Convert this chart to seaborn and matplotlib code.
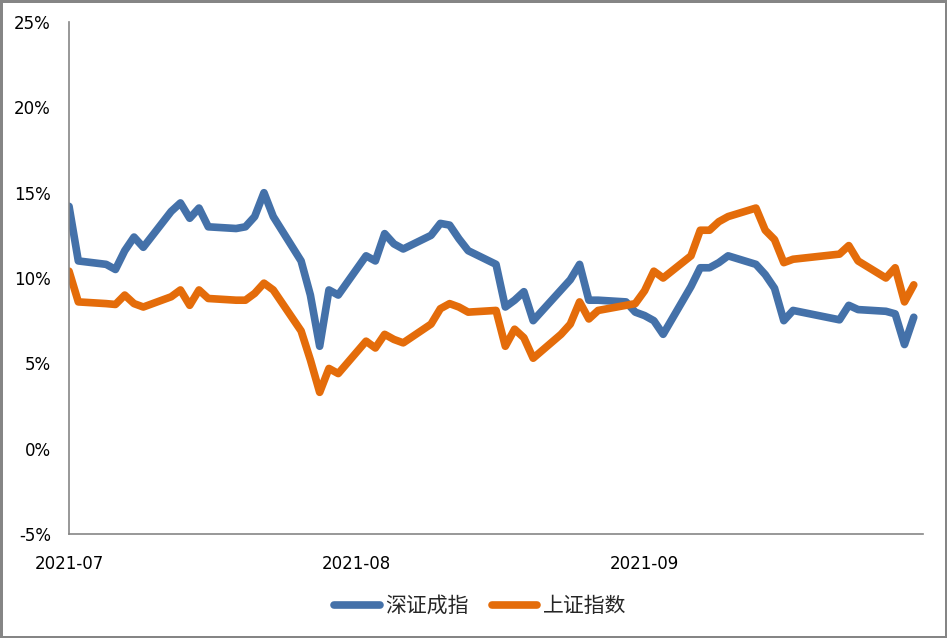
import pandas as pd
import matplotlib.pyplot as plt
import seaborn as sns

# trading days, 2021 Q3
dates = [
    '2021-07-01', '2021-07-02', '2021-07-05', '2021-07-06', '2021-07-07', '2021-07-08', '2021-07-09',
    '2021-07-12', '2021-07-13', '2021-07-14', '2021-07-15', '2021-07-16', '2021-07-19', '2021-07-20',
    '2021-07-21', '2021-07-22', '2021-07-23', '2021-07-26', '2021-07-27', '2021-07-28', '2021-07-29',
    '2021-07-30',
    '2021-08-02', '2021-08-03', '2021-08-04', '2021-08-05', '2021-08-06', '2021-08-09', '2021-08-10',
    '2021-08-11', '2021-08-12', '2021-08-13', '2021-08-16', '2021-08-17', '2021-08-18', '2021-08-19',
    '2021-08-20', '2021-08-23', '2021-08-24', '2021-08-25', '2021-08-26', '2021-08-27', '2021-08-30',
    '2021-08-31',
    '2021-09-01', '2021-09-02', '2021-09-03', '2021-09-06', '2021-09-07', '2021-09-08', '2021-09-09',
    '2021-09-10', '2021-09-13', '2021-09-14', '2021-09-15', '2021-09-16', '2021-09-17', '2021-09-22',
    '2021-09-23', '2021-09-24', '2021-09-27', '2021-09-28', '2021-09-29', '2021-09-30',
]

# 深证成指 (%)
szse = [
    14.2, 11.0, 10.8, 10.5, 11.6, 12.4, 11.8, 13.9, 14.4, 13.5, 14.1, 13.0, 12.9, 13.0,
    13.6, 15.0, 13.6, 11.0, 9.0, 6.0, 9.3, 9.0,
    11.3, 11.0, 12.6, 12.0, 11.7, 12.5, 13.2, 13.1, 12.3, 11.6, 10.8, 8.3, 8.7, 9.2,
    7.5, 9.3, 9.9, 10.8, 8.7, 8.7, 8.6, 8.0,
    7.8, 7.5, 6.7, 9.5, 10.6, 10.6, 10.9, 11.3, 10.8, 10.2, 9.4, 7.5, 8.1, 7.55,
    8.4, 8.15, 8.05, 7.9, 6.1, 7.7,
]

# 上证指数 (%)
sse = [
    10.4, 8.6, 8.5, 8.45, 9.0, 8.5, 8.3, 8.9, 9.3, 8.4, 9.3, 8.8, 8.7, 8.7,
    9.1, 9.7, 9.3, 6.9, 5.2, 3.3, 4.7, 4.4,
    6.3, 5.9, 6.7, 6.4, 6.2, 7.3, 8.2, 8.5, 8.3, 8.0, 8.1, 6.0, 7.0, 6.5,
    5.3, 6.7, 7.3, 8.6, 7.6, 8.1, 8.4, 8.5,
    9.25, 10.4, 10.0, 11.3, 12.8, 12.8, 13.3, 13.6, 14.1, 12.8, 12.25, 10.9, 11.1, 11.4,
    11.9, 11.0, 10.0, 10.6, 8.6, 9.6,
]

series_names = ['深证成指', '上证指数']
colors = ['#4471A9', '#E46C0A']

df = pd.DataFrame({
    'date': pd.to_datetime(dates * 2),
    'value': szse + sse,
    'series': [series_names[0]] * len(dates) + [series_names[1]] * len(dates),
})

sns.set_style('white')
plt.rcParams['font.family'] = ['DejaVu Sans', 'Noto Sans CJK SC']

fig = plt.figure(figsize=(9.47, 6.38), dpi=100)
fig.patch.set_edgecolor('#858585')
fig.patch.set_linewidth(2.5)
ax = fig.add_axes([0.0729, 0.163, 0.9018, 0.8025])

sns.lineplot(data=df, x='date', y='value', hue='series', palette=colors,
             linewidth=5.5, solid_capstyle='round', solid_joinstyle='round', ax=ax)

ax.set_ylim(-5, 25)
ax.set_yticks(range(-5, 26, 5))
ax.set_yticklabels([f'{v}%' for v in range(-5, 26, 5)])
ax.set_xlim(pd.Timestamp('2021-07-01'), pd.Timestamp('2021-10-01'))
ax.set_xticks(pd.to_datetime(['2021-07-01', '2021-08-01', '2021-09-01', '2021-10-01']))
ax.set_xticklabels(['2021-07', '2021-08', '2021-09', ''])

for side in ['top', 'right']:
    ax.spines[side].set_visible(False)
for side in ['left', 'bottom']:
    ax.spines[side].set_color('#868686')
    ax.spines[side].set_linewidth(1.2)
ax.tick_params(axis='both', direction='out', length=5, width=1.2, color='#868686',
               labelsize=12, labelcolor='black')
ax.tick_params(axis='y', pad=8)
ax.tick_params(axis='x', pad=10)
ax.set_xlabel('')
ax.set_ylabel('')

ax.legend(loc='center', bbox_to_anchor=(0.507, 0.05), bbox_transform=fig.transFigure,
          ncol=2, frameon=False, fontsize=15, handlelength=2.2, columnspacing=1.1,
          handletextpad=0.25)

fig.savefig('out.png', dpi=100)
